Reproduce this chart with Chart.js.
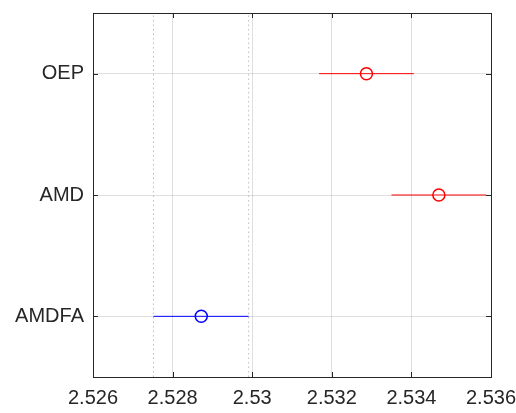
<!DOCTYPE html>
<html>
<head>
<meta charset="utf-8">
<script src="https://cdn.jsdelivr.net/npm/chart.js@4"></script>
<style>
  html, body { margin: 0; padding: 0; background: #fff; }
  #wrap { width: 516px; height: 413px; }
</style>
</head>
<body>
<div id="wrap"><canvas id="ciChart" width="516" height="413"></canvas></div>
<script>
// categories bottom -> top (y = 1, 2, 3)
const methods = ["AMDFA", "AMD", "OEP"];
const estimates = [2.52872, 2.53469, 2.53287];
const lowerCI = [2.52752, 2.5335, 2.53168];
const upperCI = [2.52991, 2.53588, 2.53406];
const pointColors = ["#0000ff", "#ff0000", "#ff0000"];
// dotted reference lines (AMDFA interval bounds)
const refLines = [2.52752, 2.52991];
const xTicks = [2.526, 2.528, 2.53, 2.532, 2.534, 2.536];

const axisColor = "#262626";
const gridColor = "rgba(38,38,38,0.15)";

const datasets = [];

// dotted vertical lines spanning the whole y range
refLines.forEach((v) => {
  datasets.push({
    type: "line",
    data: [{ x: v, y: 0.5 }, { x: v, y: 3.5 }],
    borderColor: "rgba(150,150,150,0.6)",
    borderWidth: 1,
    borderDash: [1.5, 3],
    pointRadius: 0,
    fill: false,
  });
});

// interval lines
methods.forEach((m, i) => {
  datasets.push({
    type: "line",
    data: [{ x: lowerCI[i], y: i + 1 }, { x: upperCI[i], y: i + 1 }],
    borderColor: pointColors[i],
    borderWidth: 1,
    pointRadius: 0,
    fill: false,
  });
});

// the estimate markers
datasets.push({
  type: "scatter",
  data: estimates.map((v, i) => ({ x: v, y: i + 1 })),
  pointRadius: 6,
  pointBorderWidth: 1.5,
  pointBackgroundColor: "#ffffff",
  pointBorderColor: pointColors,
});

// box + inward tick marks, like the matlab axes
const boxTicks = {
  id: "boxTicks",
  afterDatasetsDraw(chart) {
    const { ctx, chartArea: a, scales } = chart;
    const len = 5;
    ctx.save();
    ctx.strokeStyle = axisColor;
    ctx.lineWidth = 1;
    ctx.beginPath();
    scales.x.ticks.forEach((t) => {
      const px = Math.round(scales.x.getPixelForValue(t.value)) + 0.5;
      ctx.moveTo(px, a.bottom); ctx.lineTo(px, a.bottom - len);
      ctx.moveTo(px, a.top); ctx.lineTo(px, a.top + len);
    });
    scales.y.ticks.forEach((t) => {
      const py = Math.round(scales.y.getPixelForValue(t.value)) + 0.5;
      ctx.moveTo(a.left, py); ctx.lineTo(a.left + len, py);
      ctx.moveTo(a.right, py); ctx.lineTo(a.right - len, py);
    });
    ctx.stroke();
    ctx.strokeRect(Math.round(a.left) + 0.5, Math.round(a.top) + 0.5,
      Math.round(a.right - a.left), Math.round(a.bottom - a.top));
    ctx.restore();
  },
};

new Chart(document.getElementById("ciChart").getContext("2d"), {
  type: "scatter",
  data: { datasets },
  plugins: [boxTicks],
  options: {
    responsive: false,
    animation: false,
    layout: { padding: { top: 13, right: 25, left: 0, bottom: 0 } },
    plugins: { legend: { display: false }, tooltip: { enabled: false } },
    scales: {
      x: {
        type: "linear",
        min: 2.526,
        max: 2.536,
        afterBuildTicks: (s) => { s.ticks = xTicks.map((v) => ({ value: v })); },
        afterFit: (s) => { s.height = 36; s.paddingLeft = 0; s.paddingRight = 0; },
        grid: { color: gridColor, drawTicks: false },
        border: { display: false },
        ticks: {
          padding: 9,
          color: axisColor,
          font: { family: "Liberation Sans, Arial, Helvetica", size: 20 },
          callback: (v) => String(Number(v.toFixed(3))),
          maxRotation: 0,
        },
      },
      y: {
        type: "linear",
        min: 0.5,
        max: 3.5,
        afterBuildTicks: (s) => { s.ticks = methods.map((m, i) => ({ value: i + 1 })); },
        afterFit: (s) => { s.width = 93; s.paddingTop = 0; s.paddingBottom = 0; },
        grid: { color: gridColor, drawTicks: false },
        border: { display: false },
        ticks: {
          padding: 9,
          color: axisColor,
          font: { family: "Liberation Sans, Arial, Helvetica", size: 20 },
          callback: (v) => methods[v - 1],
        },
      },
    },
  },
});
</script>
</body>
</html>
